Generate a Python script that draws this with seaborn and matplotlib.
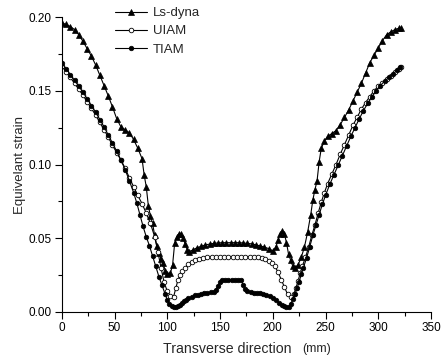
import matplotlib
matplotlib.use("Agg")
import matplotlib.pyplot as plt
from matplotlib.ticker import MultipleLocator
import seaborn as sns

# Ls-dyna result
ls_x = [0, 4, 8, 12, 16, 20, 24, 28, 32, 36, 40, 44, 48, 52, 56, 60, 64, 68, 72, 76,
        78, 80, 82, 84, 86, 88, 90, 92, 94, 96, 98, 100, 103, 105, 107, 109, 111, 113,
        115, 117, 119, 121, 124, 128, 132, 136, 140, 144, 148, 152, 156, 160, 164, 168,
        172, 176, 180, 184, 188, 192, 196, 200, 203, 205, 207, 209, 211, 213, 215, 217,
        219, 221, 224, 227, 230, 233, 236, 238, 240, 242, 244, 246, 249, 252, 256, 260,
        264, 268, 272, 276, 280, 284, 288, 292, 296, 300, 304, 308, 312, 316, 320, 322]
ls_y = [0.1960, 0.1950, 0.1935, 0.1915, 0.1880, 0.1835, 0.1785, 0.1735, 0.1675, 0.1605,
        0.1535, 0.1465, 0.1390, 0.1310, 0.1255, 0.1235, 0.1215, 0.1170, 0.1110, 0.1040,
        0.0930, 0.0850, 0.0720, 0.0650, 0.0600, 0.0520, 0.0450, 0.0400, 0.0360, 0.0330,
        0.0280, 0.0260, 0.0265, 0.0320, 0.0470, 0.0510, 0.0530, 0.0530, 0.0500, 0.0460,
        0.0420, 0.0410, 0.0420, 0.0435, 0.0445, 0.0455, 0.0460, 0.0465, 0.0468, 0.0470,
        0.0470, 0.0470, 0.0470, 0.0470, 0.0468, 0.0465, 0.0462, 0.0455, 0.0448, 0.0440,
        0.0430, 0.0415, 0.0440, 0.0490, 0.0530, 0.0550, 0.0530, 0.0470, 0.0390, 0.0350,
        0.0310, 0.0300, 0.0320, 0.0370, 0.0440, 0.0540, 0.0660, 0.0760, 0.0830, 0.0890,
        0.1020, 0.1110, 0.1160, 0.1190, 0.1210, 0.1230, 0.1270, 0.1320, 0.1370, 0.1430,
        0.1490, 0.1550, 0.1620, 0.1690, 0.1740, 0.1790, 0.1840, 0.1880, 0.1900, 0.1915,
        0.1925, 0.1925]

# UIAM result
ui_x = [0, 4, 8, 12, 16, 20, 24, 28, 32, 36, 40, 44, 48, 52, 56, 60, 64, 68, 72, 76,
        80, 84, 88, 91, 94, 97, 100, 103, 106, 108, 110, 112, 114, 117, 120, 123, 126,
        130, 134, 138, 142, 146, 150, 154, 158, 162, 166, 170, 174, 178, 182, 186, 190,
        193, 196, 199, 202, 205, 208, 211, 214, 217, 220, 222, 224, 226, 228, 231, 234,
        237, 240, 243, 246, 249, 252, 256, 260, 264, 268, 272, 276, 280, 284, 288, 292,
        296, 300, 304, 308, 312, 316, 320, 322]
ui_y = [0.1665, 0.1630, 0.1590, 0.1550, 0.1510, 0.1470, 0.1425, 0.1380, 0.1335, 0.1285,
        0.1235, 0.1185, 0.1130, 0.1080, 0.1030, 0.0975, 0.0910, 0.0850, 0.0790, 0.0735,
        0.0670, 0.0600, 0.0510, 0.0410, 0.0300, 0.0200, 0.0140, 0.0110, 0.0105, 0.0160,
        0.0215, 0.0250, 0.0275, 0.0300, 0.0325, 0.0340, 0.0352, 0.0362, 0.0367, 0.0370,
        0.0372, 0.0373, 0.0373, 0.0373, 0.0373, 0.0373, 0.0373, 0.0373, 0.0373, 0.0373,
        0.0372, 0.0370, 0.0366, 0.0358, 0.0347, 0.0333, 0.0310, 0.0270, 0.0220, 0.0170,
        0.0120, 0.0100, 0.0120, 0.0165, 0.0210, 0.0265, 0.0310, 0.0370, 0.0440, 0.0520,
        0.0590, 0.0670, 0.0745, 0.0810, 0.0870, 0.0935, 0.1000, 0.1070, 0.1135, 0.1200,
        0.1265, 0.1320, 0.1375, 0.1420, 0.1460, 0.1500, 0.1530, 0.1555, 0.1580, 0.1600,
        0.1625, 0.1650, 0.1660]

# TIAM result
ti_x = [0, 4, 8, 12, 16, 20, 24, 28, 32, 36, 40, 44, 48, 52, 56, 60, 64, 68, 71, 74,
        77, 80, 83, 86, 89, 92, 95, 98, 100, 102, 104, 106, 108, 110, 112, 114, 116, 118,
        120, 123, 126, 129, 132, 135, 138, 141, 144, 146, 148, 150, 152, 155, 158, 161,
        164, 167, 170, 172, 174, 176, 179, 182, 185, 188, 191, 194, 197, 200, 203, 206,
        209, 211, 213, 215, 217, 219, 221, 223, 225, 227, 229, 232, 235, 238, 241, 244,
        247, 250, 254, 258, 262, 266, 270, 274, 278, 282, 286, 290, 294, 298, 302, 306,
        310, 314, 318, 321]
ti_y = [0.1685, 0.1650, 0.1610, 0.1570, 0.1530, 0.1490, 0.1445, 0.1400, 0.1355, 0.1305,
        0.1255, 0.1200, 0.1145, 0.1090, 0.1030, 0.0965, 0.0890, 0.0810, 0.0740, 0.0660,
        0.0580, 0.0510, 0.0450, 0.0380, 0.0310, 0.0240, 0.0180, 0.0120, 0.0080, 0.0055,
        0.0038, 0.0032, 0.0035, 0.0042, 0.0050, 0.0060, 0.0072, 0.0082, 0.0092, 0.0103,
        0.0112, 0.0118, 0.0124, 0.0128, 0.0131, 0.0133, 0.0135, 0.0150, 0.0175, 0.0205,
        0.0215, 0.0217, 0.0217, 0.0217, 0.0217, 0.0217, 0.0215, 0.0185, 0.0155, 0.0140,
        0.0135, 0.0132, 0.0130, 0.0128, 0.0125, 0.0118, 0.0108, 0.0095, 0.0080, 0.0064,
        0.0048, 0.0038, 0.0034, 0.0034, 0.0055, 0.0085, 0.0120, 0.0160, 0.0205, 0.0255,
        0.0300, 0.0365, 0.0440, 0.0520, 0.0590, 0.0660, 0.0730, 0.0790, 0.0865, 0.0930,
        0.0995, 0.1060, 0.1125, 0.1190, 0.1250, 0.1310, 0.1365, 0.1415, 0.1460, 0.1500,
        0.1535, 0.1565, 0.1590, 0.1615, 0.1640, 0.1660]

sns.set_style("ticks")
plt.rcParams["font.family"] = ["Liberation Sans", "DejaVu Sans"]

fig = plt.figure(figsize=(4.42, 3.58), dpi=100)
ax = fig.add_axes([0.140, 0.1285, 0.835, 0.824])

common = dict(color="black", linewidth=0.8, ax=ax, errorbar=None)
sns.lineplot(x=ls_x, y=ls_y, marker="^", markersize=3.8, markerfacecolor="black",
             markeredgecolor="black", markeredgewidth=0.5, label="Ls-dyna", **common)
sns.lineplot(x=ui_x, y=ui_y, marker="o", markersize=3.3, markerfacecolor="white",
             markeredgecolor="black", markeredgewidth=0.6, label="UIAM", **common)
sns.lineplot(x=ti_x, y=ti_y, marker="o", markersize=3.3, markerfacecolor="black",
             markeredgecolor="black", markeredgewidth=0.5, label="TIAM", **common)

ax.set_xlim(0, 350)
ax.set_ylim(0, 0.2)
ax.xaxis.set_major_locator(MultipleLocator(50))
ax.xaxis.set_minor_locator(MultipleLocator(25))
ax.yaxis.set_major_locator(MultipleLocator(0.05))
ax.yaxis.set_minor_locator(MultipleLocator(0.025))
ax.yaxis.set_major_formatter(matplotlib.ticker.FormatStrFormatter("%.2f"))
ax.tick_params(which="major", direction="out", length=5, width=0.8,
               labelsize=8.5, color="black", labelcolor="black", pad=2.5)
ax.tick_params(which="minor", direction="out", length=3, width=0.8, color="black")
for s in ["left", "bottom"]:
    ax.spines[s].set_color("black")
    ax.spines[s].set_linewidth(0.8)
sns.despine(ax=ax)

ax.set_xlabel("")
ax.set_ylabel("Equivelant strain", fontsize=9.5, labelpad=2)

fig.text(0.3687, 1 - 349 / 358, "Transverse direction", fontsize=10.2,
         ha="left", va="center")
fig.text(0.683, 1 - 349 / 358, "(mm)", fontsize=9, ha="left", va="center")

ax.legend(loc="upper left", bbox_to_anchor=(115 / 442, 1 - 7 / 358),
          bbox_transform=fig.transFigure, frameon=False, fontsize=9.5,
          handlelength=2.4, handletextpad=0.45, labelspacing=0.45,
          borderpad=0, borderaxespad=0)

fig.savefig("out.png", dpi=100)
